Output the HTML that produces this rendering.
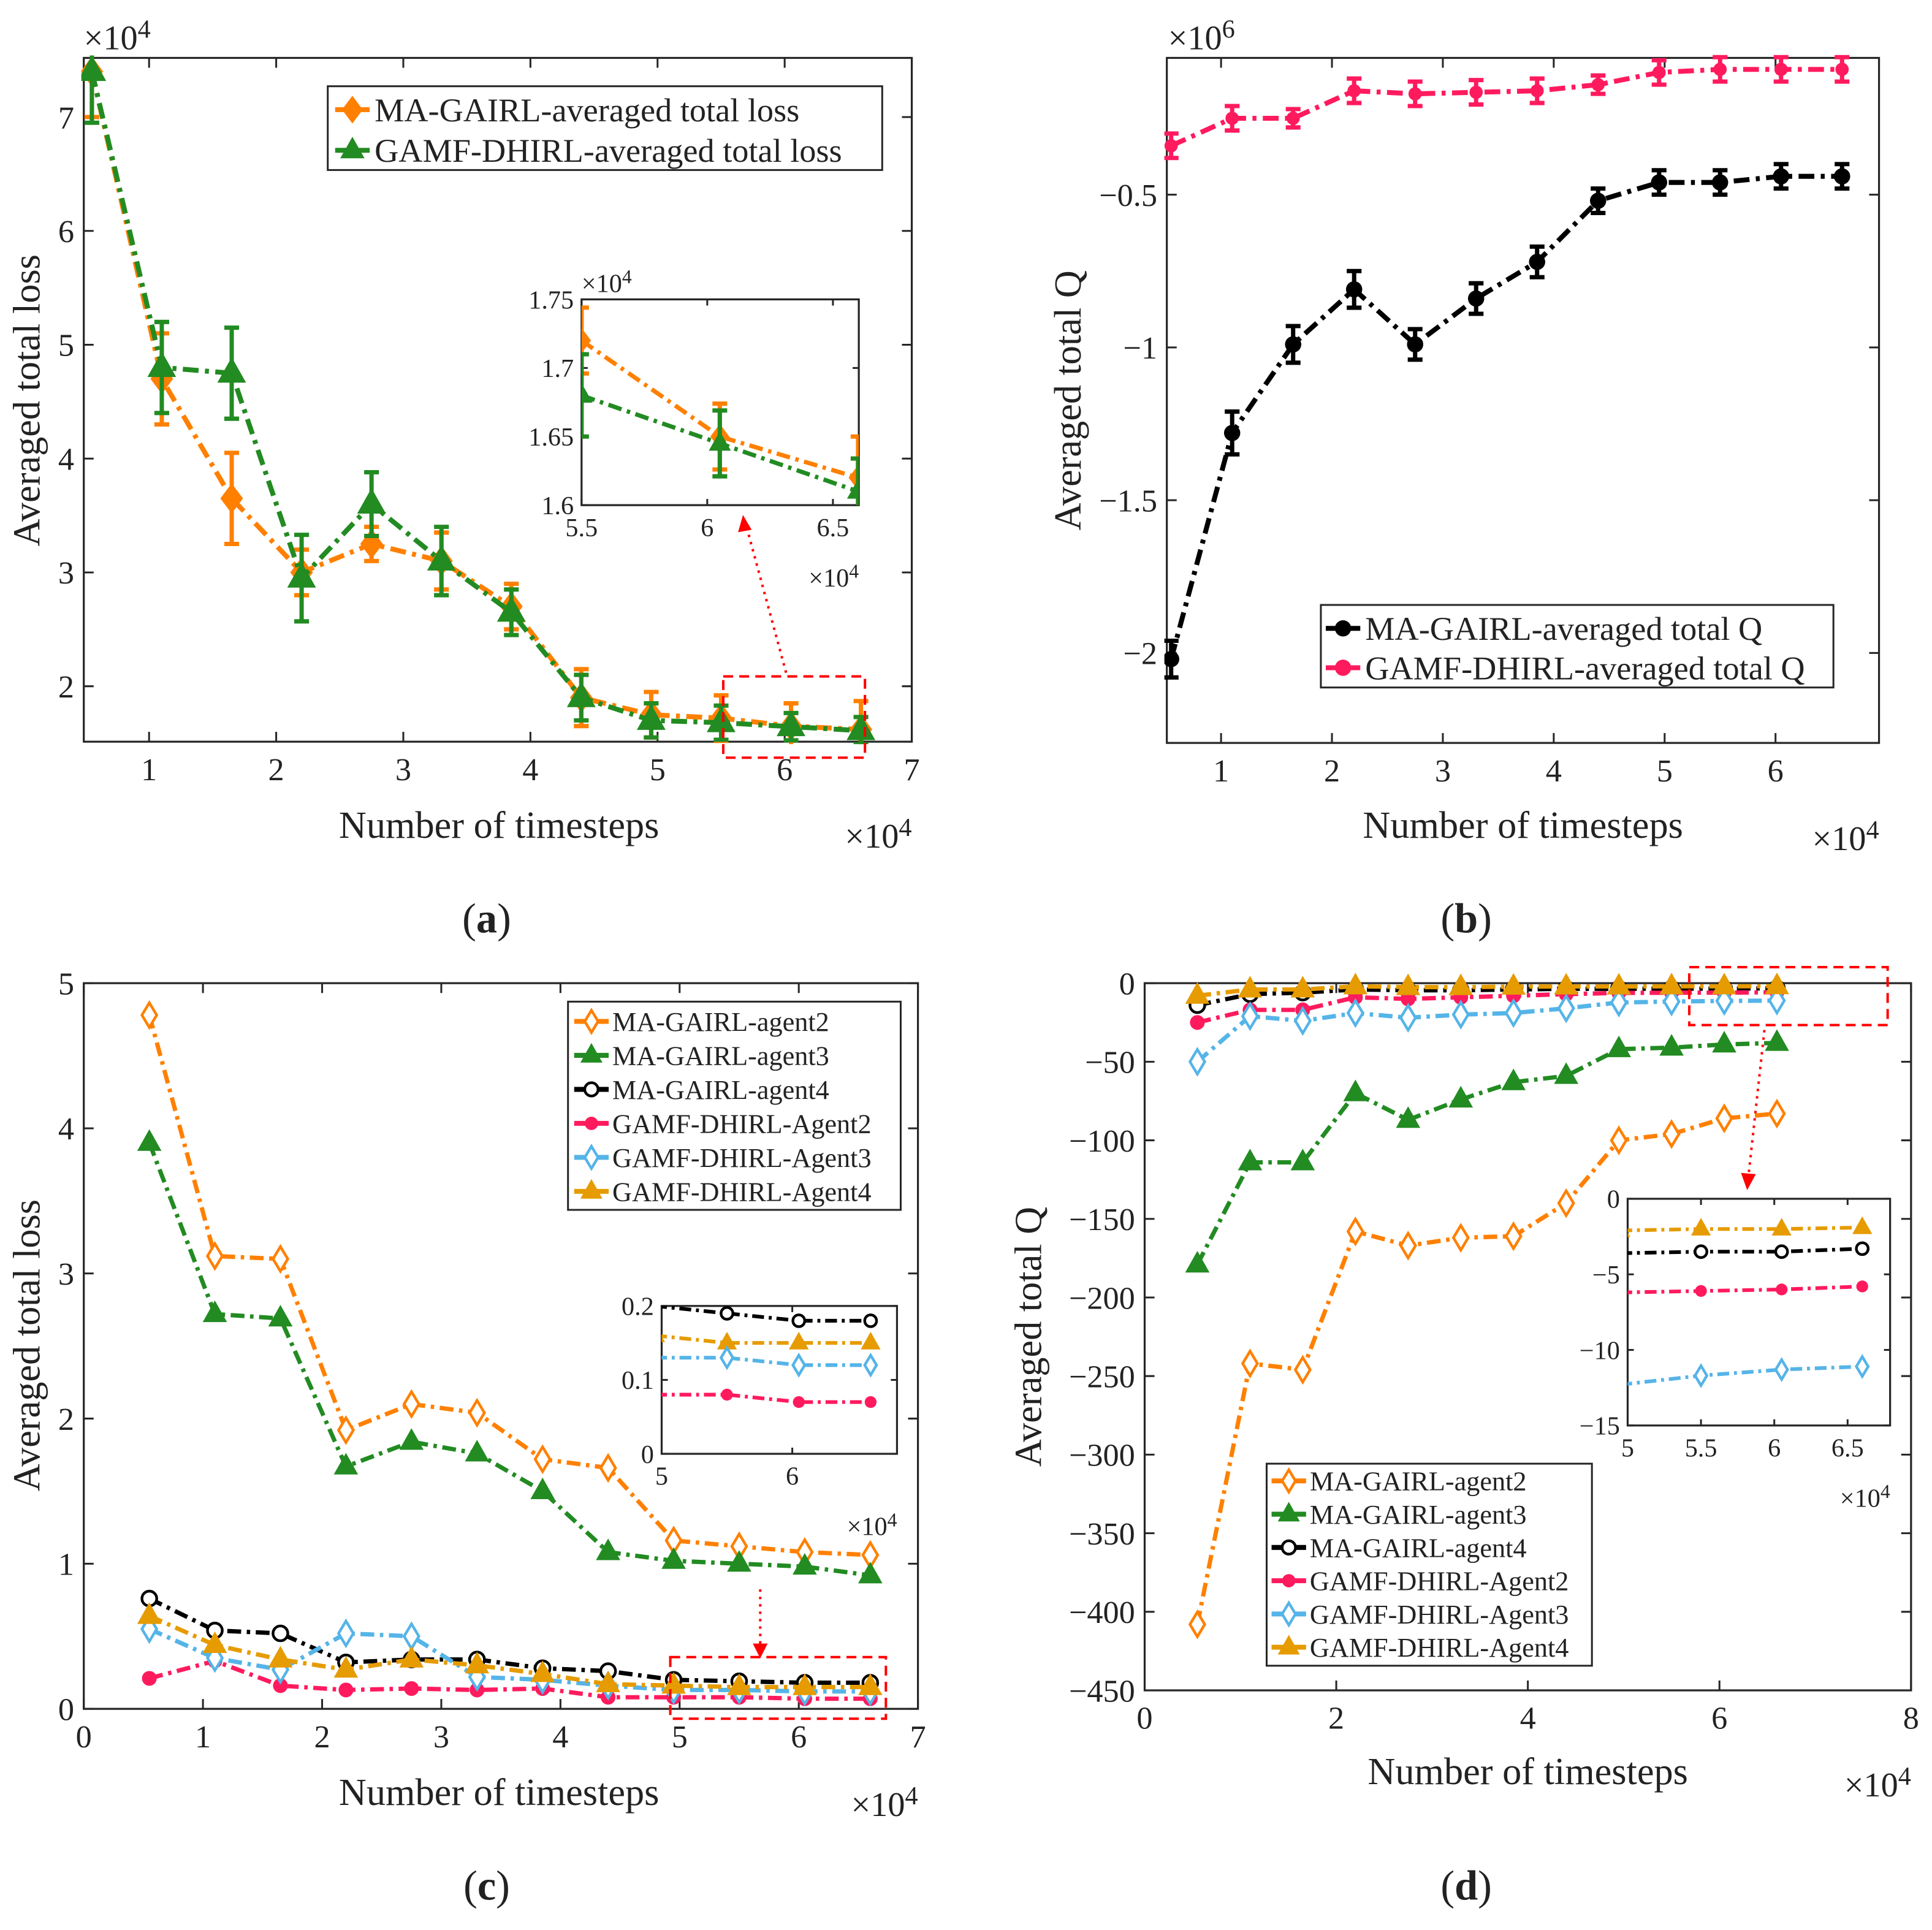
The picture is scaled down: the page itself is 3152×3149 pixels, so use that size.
<!DOCTYPE html>
<html><head><meta charset="utf-8"><style>
html,body{margin:0;padding:0;background:#fff;width:3152px;height:3149px;overflow:hidden}
svg{display:block;font-family:"Liberation Serif","Times New Roman",serif}
svg text{font-family:"Liberation Serif","Times New Roman",serif;fill:#222}
</style></head><body>
<svg id="fig" width="3152" height="3149" viewBox="0 0 1568 1566.5" preserveAspectRatio="none" font-family="Liberation Serif, serif" xmlns="http://www.w3.org/2000/svg"></svg>
<script>
// ---- data ----
const xsteps = [0.55,1.1,1.65,2.2,2.75,3.3,3.85,4.4,4.95,5.5,6.05,6.6];
const aOrange = [7.4,4.7,3.65,3.0,3.25,3.1,2.7,1.9,1.75,1.72,1.65,1.62];
const aOrangeErr = [0.4,0.4,0.4,0.2,0.15,0.25,0.2,0.25,0.2,0.2,0.2,0.25];
const aGreen = [7.4,4.8,4.75,2.95,3.6,3.1,2.65,1.9,1.7,1.68,1.645,1.61];
const aGreenErr = [0.45,0.4,0.4,0.38,0.28,0.3,0.2,0.2,0.15,0.15,0.12,0.12];
const bBlack = [-2.02,-1.28,-0.99,-0.81,-0.99,-0.84,-0.72,-0.52,-0.46,-0.46,-0.44,-0.44];
const bBlackErr = [0.06,0.07,0.06,0.06,0.05,0.05,0.05,0.04,0.04,0.04,0.04,0.04];
const bPink = [-0.34,-0.25,-0.25,-0.16,-0.17,-0.165,-0.16,-0.14,-0.1,-0.09,-0.09,-0.09];
const bPinkErr = [0.04,0.04,0.03,0.04,0.04,0.04,0.04,0.03,0.04,0.04,0.04,0.04];
const cAgent2 = [4.78,3.12,3.1,1.92,2.1,2.04,1.72,1.66,1.16,1.12,1.08,1.06];
const cAgent3 = [3.9,2.72,2.69,1.67,1.84,1.76,1.5,1.08,1.02,1.0,0.98,0.92];
const cAgent4 = [0.76,0.54,0.52,0.32,0.34,0.34,0.28,0.26,0.2,0.19,0.18,0.18];
const cGAgent2 = [0.21,0.33,0.16,0.13,0.14,0.13,0.14,0.08,0.08,0.08,0.07,0.07];
const cGAgent3 = [0.55,0.35,0.27,0.52,0.5,0.22,0.2,0.16,0.13,0.13,0.12,0.12];
const cGAgent4 = [0.64,0.44,0.34,0.27,0.34,0.3,0.24,0.17,0.16,0.15,0.15,0.15];
const dAgent2 = [-408,-242,-246,-158,-167,-162,-161,-140,-100,-96,-86,-83];
const dAgent3 = [-179,-114,-114,-70,-87,-74,-63,-59,-42,-41,-39,-38];
const dAgent4 = [-14,-7,-6,-4,-4.5,-4.5,-4,-3.6,-3.6,-3.5,-3.5,-3.3];
const dGAgent2 = [-25,-17,-17,-9,-10,-9,-8,-7,-6.2,-6.1,-6,-5.8];
const dGAgent3 = [-50,-21,-24,-19,-22,-20,-19,-16,-12.3,-11.7,-11.3,-11.1];
const dGAgent4 = [-8,-4,-4,-2,-2.5,-2.5,-2.2,-2.1,-2.1,-2.0,-2.0,-1.9];
const aXTicks=[1,2,3,4,5,6,7], aYTicks=[2,3,4,5,6,7];
const bXTicks=[1,2,3,4,5,6], bYTicks=[-2,-1.5,-1,-0.5];
const cXTicks=[0,1,2,3,4,5,6,7], cYTicks=[0,1,2,3,4,5];
const dXTicks=[0,2,4,6,8], dYTicks=[0,-50,-100,-150,-200,-250,-300,-350,-400,-450];

const C={orange:'#ff8000',green:'#228b22',black:'#000',pink:'#ff1a5e',blue:'#55b4e8',gold:'#e69b00'};
const NS='http://www.w3.org/2000/svg';
const FF='Liberation Serif, Times New Roman, serif';
const svg=document.getElementById('fig');
function mk(tag,attrs,parent){const e=document.createElementNS(NS,tag);for(const k in attrs)e.setAttribute(k,attrs[k]);if(tag==='text')e.setAttribute('font-family',FF);(parent||svg).appendChild(e);return e;}
function scale(d0,d1,r0,r1){return v=>r0+(v-d0)/(d1-d0)*(r1-r0);}
let clipN=0;
function axes(g,x0,y0,x1,y1,sx,sy,xt,yt,fs,xfmt,yfmt,ticklen){
  const r=mk('rect',{x:x0,y:y0,width:x1-x0,height:y1-y0,fill:'#fff',stroke:'#262626','stroke-width':1.6},g);
  
  
  xt.forEach(t=>{const x=sx(t);
    mk('line',{x1:x,x2:x,y1:y1,y2:y1-ticklen,stroke:'#262626','stroke-width':1.5},g);
    mk('line',{x1:x,x2:x,y1:y0,y2:y0+ticklen,stroke:'#262626','stroke-width':1.5},g);
    const tx=mk('text',{x:x,y:y1+fs*1.2,'font-size':fs,'text-anchor':'middle'},g);tx.textContent=xfmt(t);
    
    });
  yt.forEach(t=>{const y=sy(t);
    mk('line',{x1:x0,x2:x0+ticklen,y1:y,y2:y,stroke:'#262626','stroke-width':1.5},g);
    mk('line',{x1:x1,x2:x1-ticklen,y1:y,y2:y,stroke:'#262626','stroke-width':1.5},g);
    const tx=mk('text',{x:x0-fs*0.3,y:y+fs*0.35,'font-size':fs,'text-anchor':'end'},g);tx.textContent=yfmt(t);
    
    });
}
function clip(g,x0,y0,x1,y1){const id='c'+(clipN++);const cp=mk('clipPath',{id:id},g);mk('rect',{x:x0,y:y0,width:x1-x0,height:y1-y0},cp);return 'url(#'+id+')';}
function marker(g,type,x,y,s,col){
  let e;
  if(type==='diamond')e=mk('path',{d:`M${x} ${y-s}L${x+s*0.75} ${y}L${x} ${y+s}L${x-s*0.75} ${y}Z`,fill:col,stroke:col,'stroke-width':1.5},g);
  else if(type==='hdiamond')e=mk('path',{d:`M${x} ${y-s}L${x+s*0.6} ${y}L${x} ${y+s}L${x-s*0.6} ${y}Z`,fill:'#fff',stroke:col,'stroke-width':2.2},g);
  else if(type==='tri')e=mk('path',{d:`M${x} ${y-s}L${x+s*0.9} ${y+s*0.6}L${x-s*0.9} ${y+s*0.6}Z`,fill:col,stroke:col,'stroke-width':1},g);
  else if(type==='ocircle')e=mk('circle',{cx:x,cy:y,r:s*0.6,fill:'#fff',stroke:col,'stroke-width':2.2},g);
  else e=mk('circle',{cx:x,cy:y,r:s*0.6,fill:col},g);
  
  
}
function series(g,xs,ys,sx,sy,col,mt,ms,lw,cp,errs,name){
  const sg=mk('g',{'clip-path':cp||''},g);
  
  
  const pts=xs.map((x,i)=>sx(x)+','+sy(ys[i])).join(' ');
  mk('polyline',{points:pts,fill:'none',stroke:col,'stroke-width':lw,'stroke-dasharray':`${lw*3.2} ${lw*1.3} ${lw*0.8} ${lw*1.3}`},sg);
  if(errs){xs.forEach((x,i)=>{const X=sx(x),a=sy(ys[i]-errs[i]),b=sy(ys[i]+errs[i]);
    mk('line',{x1:X,x2:X,y1:a,y2:b,stroke:col,'stroke-width':3.5},sg);
    mk('line',{x1:X-6,x2:X+6,y1:a,y2:a,stroke:col,'stroke-width':3.5},sg);
    mk('line',{x1:X-6,x2:X+6,y1:b,y2:b,stroke:col,'stroke-width':3.5},sg);});}
  xs.forEach((x,i)=>marker(sg,mt,sx(x),sy(ys[i]),ms,col));
}
function txt(g,x,y,s,fs,anchor,name,rot){
  const t=mk('text',{x:x,y:y,'font-size':fs,'text-anchor':anchor||'start'},g);
  if(rot)t.setAttribute('transform',`rotate(-90 ${x} ${y})`);
  t.innerHTML=s;
  
  
  return t;
}
function legend(g,x0,y0,x1,y1,items,fs,rowY0,dy,lx0,lx1,tx,ms){
  const lg=mk('g',{},g);
  
  
  mk('rect',{x:x0,y:y0,width:x1-x0,height:y1-y0,fill:'#fff',stroke:'#262626','stroke-width':1.5},lg);
  items.forEach((it,i)=>{const y=rowY0+i*dy;
    const eg=mk('g',{},lg);
    
    
    mk('line',{x1:lx0,x2:lx1,y1:y,y2:y,stroke:it.c,'stroke-width':4},eg);
    marker(eg,it.m,(lx0+lx1)/2,y,ms,it.c);
    const t=mk('text',{x:tx,y:y+fs*0.35,'font-size':fs},eg);t.textContent=it.t;});
}
const exp4='×10<tspan font-size="0.75em" dy="-0.45em">4</tspan>';
const exp6='×10<tspan font-size="0.75em" dy="-0.45em">6</tspan>';
const f=v=>String(v).replace('-','−');

// ---- panel a ----
{const g=mk('g',{});
 const sx=scale(0.5,7,69.4,740),sy=scale(2,7,557,95);
 axes(g,68,47,740,602,sx,sy,aXTicks,aYTicks,26,f,f,8);
 const cp=clip(g,66,45,742,604);
 series(g,xsteps,aOrange,sx,sy,C.orange,'diamond',11,4,cp,aOrangeErr,'series-ma-gairl-loss');
 series(g,xsteps,aGreen,sx,sy,C.green,'tri',12,4,cp,aGreenErr,'series-gamf-dhirl-loss');
 txt(g,68,40,exp4,28,'start','y-exponent');
 txt(g,740,688,exp4,28,'end','x-exponent');
 txt(g,405,680,'Number of timesteps',31,'middle','x-axis-title');
 txt(g,32,325,'Averaged total loss',31,'middle','y-axis-title',true);
 legend(g,266,70,716,138,[{t:'MA-GAIRL-averaged total loss',c:C.orange,m:'diamond'},{t:'GAMF-DHIRL-averaged total loss',c:C.green,m:'tri'}],27,89,33,272,300,304,10);
 const ix=scale(5.5,6.5,472,676),iy=scale(1.6,1.75,410,243);
 axes(g,472,243,697,410,ix,iy,[5.5,6,6.5],[1.6,1.65,1.7,1.75],21,f,f,5);
 const cpi=clip(g,472,243,697,410);
 const ixs=xsteps.slice(9);
 series(g,ixs,aOrange.slice(9),ix,iy,C.orange,'diamond',9,3.5,cpi,aOrangeErr.slice(9).map(v=>v*0.12),'inset-a-ma-gairl');
 series(g,ixs,aGreen.slice(9),ix,iy,C.green,'tri',9,3.5,cpi,aGreenErr.slice(9).map(v=>v*0.2),'inset-a-gamf-dhirl');
 txt(g,472,237,exp4,21,'start','inset-y-exponent');
 txt(g,697,476,exp4,21,'end','inset-x-exponent');
 mk('rect',{x:587,y:549,width:115,height:66,fill:'none',stroke:'#f00','stroke-width':2,'stroke-dasharray':'8 5'},g);
 mk('line',{x1:638,y1:546,x2:606,y2:428,stroke:'#f00','stroke-width':2,'stroke-dasharray':'2 4'},g);
 mk('path',{d:'M603 418 L599 432 L610 430 Z',fill:'#f00'},g);
 txt(g,395,757,'(<tspan font-weight="bold">a</tspan>)',34,'middle','panel-label-a');
}
// ---- panel b ----
{const g=mk('g',{});
 const sx=scale(0,1,901,991),sy=scale(-0.5,-1,158,282);
 axes(g,947,47,1525,603,sx,sy,bXTicks,bYTicks,26,f,f,8);
 const cp=clip(g,945,40,1527,605);
 series(g,xsteps,bBlack,sx,sy,C.black,'circle',11,4,cp,bBlackErr,'series-ma-gairl-q');
 series(g,xsteps,bPink,sx,sy,C.pink,'circle',9,4,cp,bPinkErr,'series-gamf-dhirl-q');
 txt(g,948,40,exp6,28,'start','y-exponent');
 txt(g,1525,690,exp4,28,'end','x-exponent');
 txt(g,1236,680,'Number of timesteps',31,'middle','x-axis-title');
 txt(g,877,325,'Averaged total Q',31,'middle','y-axis-title',true);
 legend(g,1072,491,1488,558,[{t:'MA-GAIRL-averaged total Q',c:C.black,m:'circle'},{t:'GAMF-DHIRL-averaged total Q',c:C.pink,m:'circle'}],27,510,32,1076,1104,1108,11);
 txt(g,1190,757,'(<tspan font-weight="bold">b</tspan>)',34,'middle','panel-label-b');
}
// ---- panel c ----
{const g=mk('g',{});
 const sx=scale(0,7,68,745),sy=scale(0,5,1387,798);
 axes(g,68,798,745,1387,sx,sy,cXTicks,cYTicks,26,f,f,8);
 const cp=clip(g,60,790,750,1395);
 const S=[[cAgent2,C.orange,'hdiamond','MA-GAIRL-agent2'],[cAgent3,C.green,'tri','MA-GAIRL-agent3'],[cAgent4,C.black,'ocircle','MA-GAIRL-agent4'],[cGAgent2,C.pink,'circle','GAMF-DHIRL-Agent2'],[cGAgent3,C.blue,'hdiamond','GAMF-DHIRL-Agent3'],[cGAgent4,C.gold,'tri','GAMF-DHIRL-Agent4']];
 S.forEach(s=>series(g,xsteps,s[0],sx,sy,s[1],s[2],10,3.5,cp,null,'series-c-'+s[3].toLowerCase()));
 txt(g,745,1474,exp4,28,'end','x-exponent');
 txt(g,405,1465,'Number of timesteps',31,'middle','x-axis-title');
 txt(g,32,1092,'Averaged total loss',31,'middle','y-axis-title',true);
 legend(g,461,813,731,982,S.map(s=>({t:s[3],c:s[1],m:s[2]})),22,829,27.6,466,494,497,9);
 const ix=scale(5,6,537,643),iy=scale(0,0.2,1180,1060);
 axes(g,537,1060,728,1180,ix,iy,[5,6],[0,0.1,0.2],21,f,f,5);
 const cpi=clip(g,537,1060,728,1180);
 [[cAgent4,C.black,'ocircle'],[cGAgent4,C.gold,'tri'],[cGAgent3,C.blue,'hdiamond'],[cGAgent2,C.pink,'circle']].forEach(s=>series(g,xsteps.slice(8),s[0].slice(8),ix,iy,s[1],s[2],8,3,cpi,null,'inset-c-series'));
 txt(g,728,1246,exp4,21,'end','inset-x-exponent');
 mk('rect',{x:544,y:1345,width:175,height:50,fill:'none',stroke:'#f00','stroke-width':2,'stroke-dasharray':'8 5'},g);
 mk('line',{x1:617,y1:1290,x2:617,y2:1338,stroke:'#f00','stroke-width':2,'stroke-dasharray':'2 4'},g);
 mk('path',{d:'M611 1334 L623 1334 L617 1346 Z',fill:'#f00'},g);
 txt(g,395,1542,'(<tspan font-weight="bold">c</tspan>)',34,'middle','panel-label-c');
}
// ---- panel d ----
{const g=mk('g',{});
 const sx=scale(0,8,929,1551),sy=scale(0,-450,798,1372);
 axes(g,929,798,1551,1372,sx,sy,dXTicks,dYTicks,26,f,f,8);
 const cp=clip(g,921,785,1555,1380);
 const S=[[dAgent2,C.orange,'hdiamond','MA-GAIRL-agent2'],[dAgent3,C.green,'tri','MA-GAIRL-agent3'],[dAgent4,C.black,'ocircle','MA-GAIRL-agent4'],[dGAgent2,C.pink,'circle','GAMF-DHIRL-Agent2'],[dGAgent3,C.blue,'hdiamond','GAMF-DHIRL-Agent3'],[dGAgent4,C.gold,'tri','GAMF-DHIRL-Agent4']];
 S.forEach(s=>series(g,xsteps,s[0],sx,sy,s[1],s[2],10,3.5,cp,null,'series-d-'+s[3].toLowerCase()));
 txt(g,1551,1458,exp4,28,'end','x-exponent');
 txt(g,1240,1448,'Number of timesteps',31,'middle','x-axis-title');
 txt(g,845,1085,'Averaged total Q',31,'middle','y-axis-title',true);
 legend(g,1028,1188,1292,1352,S.map(s=>({t:s[3],c:s[1],m:s[2]})),22,1202,27,1032,1060,1063,9);
 const ix=scale(5,6,1321,1440),iy=scale(0,-15,973,1157);
 axes(g,1321,973,1534,1157,ix,iy,[5,5.5,6,6.5],[0,-5,-10,-15],21,f,f,5);
 const cpi=clip(g,1321,973,1534,1157);
 [[dGAgent4,C.gold,'tri'],[dAgent4,C.black,'ocircle'],[dGAgent2,C.pink,'circle'],[dGAgent3,C.blue,'hdiamond']].forEach(s=>series(g,xsteps.slice(8),s[0].slice(8),ix,iy,s[1],s[2],8,3,cpi,null,'inset-d-series'));
 txt(g,1534,1223,exp4,21,'end','inset-x-exponent');
 mk('rect',{x:1371,y:785,width:161,height:47,fill:'none',stroke:'#f00','stroke-width':2,'stroke-dasharray':'8 5'},g);
 mk('line',{x1:1432,y1:836,x2:1419,y2:955,stroke:'#f00','stroke-width':2,'stroke-dasharray':'2 4'},g);
 mk('path',{d:'M1413 952 L1425 953 L1418 966 Z',fill:'#f00'},g);
 txt(g,1190,1542,'(<tspan font-weight="bold">d</tspan>)',34,'middle','panel-label-d');
}
</script>
</body></html>
